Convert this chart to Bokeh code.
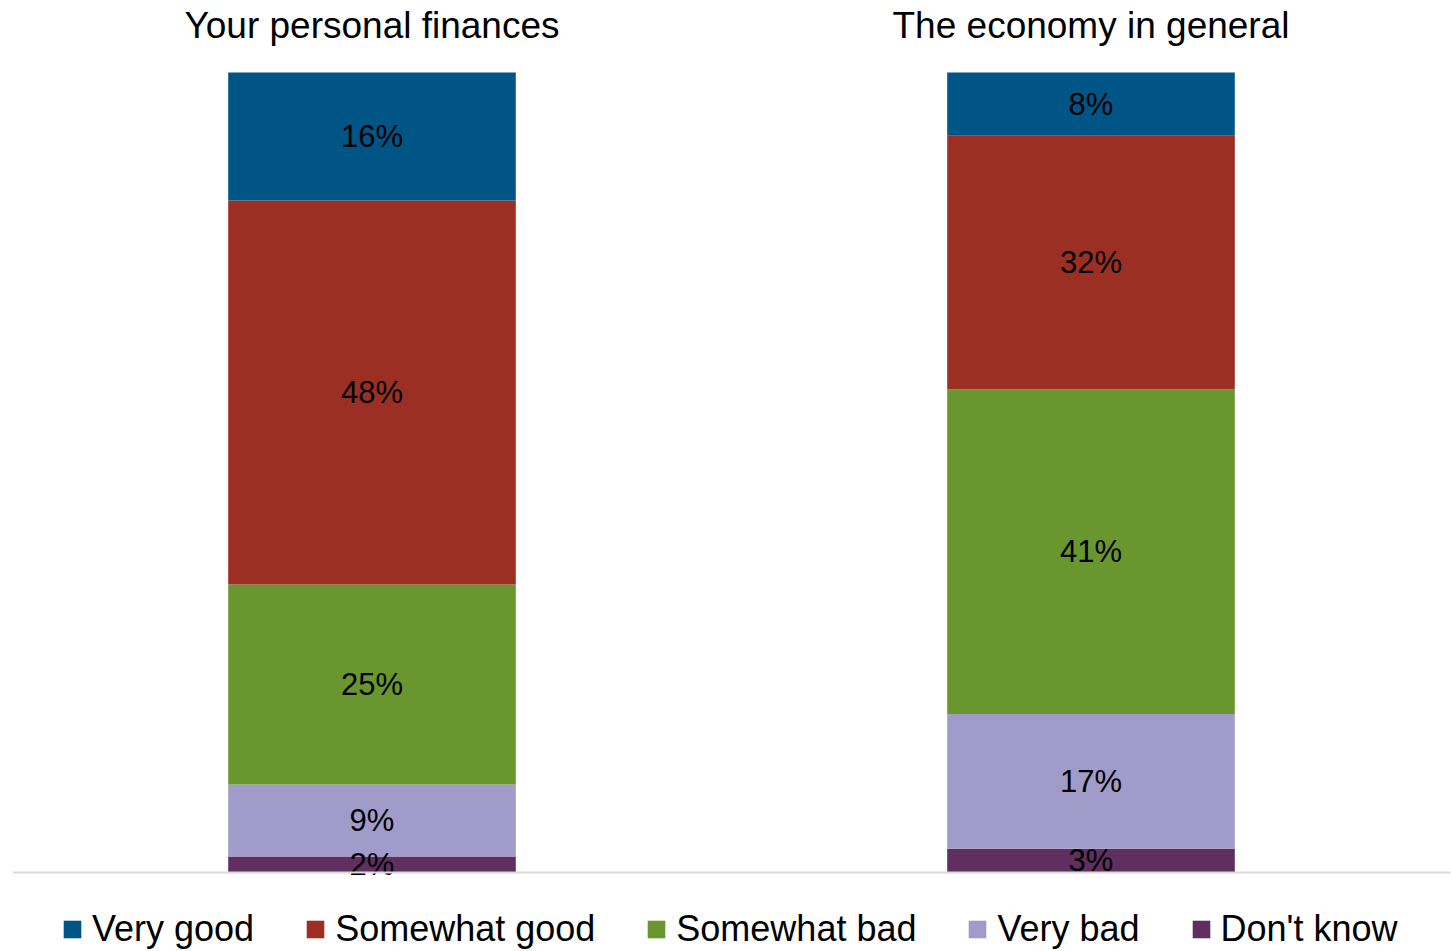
from bokeh.plotting import figure
from bokeh.models import ColumnDataSource, Legend, LegendItem, Span, Range1d, FactorRange
from bokeh.embed import file_html
from bokeh.resources import INLINE
from bokeh.core.properties import value

categories = ["Your personal finances", "The economy in general"]
series = ["Very good", "Somewhat good", "Somewhat bad", "Very bad", "Don't know"]
very_good = [16, 8]
somewhat_good = [48, 32]
somewhat_bad = [25, 41]
very_bad = [9, 17]
dont_know = [2, 3]
colors = ["#005587", "#9b2f24", "#69962e", "#a09bc9", "#5e2f5f"]

FONT = "Liberation Sans"

values = [very_good, somewhat_good, somewhat_bad, very_bad, dont_know]
totals = [sum(v[i] for v in values) for i in range(len(categories))]

# frame covers the full canvas height; 0..1 maps to pixel rows 872..72
p = figure(width=1451, height=951, output_backend="svg", toolbar_location=None,
           x_range=FactorRange(*categories, range_padding=0.0),
           y_range=Range1d(-79 / 800, 872 / 800), min_border_left=12, min_border_right=1,
           min_border_top=0, min_border_bottom=0)
p.outline_line_color = None
p.grid.visible = False
p.xaxis.visible = False
p.yaxis.visible = False

# stack from bottom: Don't know, Very bad, Somewhat bad, Somewhat good, Very good
order = list(range(len(series)))[::-1]
base = [0.0] * len(categories)
renderers = {}
lx, ly, lt = [], [], []
for k in order:
    bottoms = []
    tops = []
    for i in range(len(categories)):
        b = base[i]
        t = b + values[k][i] / totals[i]
        bottoms.append(b)
        tops.append(t)
        lx.append(categories[i])
        ly.append((b + t) / 2)
        lt.append(f"{values[k][i]}%")
        base[i] = t
    src = ColumnDataSource(dict(x=categories, bottom=bottoms, top=tops))
    renderers[k] = p.vbar(x="x", bottom="bottom", top="top", width=0.4, source=src,
                          fill_color=colors[k], line_color=None)

p.add_layout(Span(location=0, dimension="width", line_color="#d9d9d9", line_width=2))

lab = ColumnDataSource(dict(x=lx, y=ly, t=lt))
p.text(x="x", y="y", text="t", source=lab, text_align="center", text_baseline="middle",
       text_font=value(FONT), text_font_size="31px", text_color="black")

tsrc = ColumnDataSource(dict(x=categories, y=[(951 - 25 - 79) / 800] * 2, t=categories))
p.text(x="x", y="y", text="t", source=tsrc, text_align="center", text_baseline="middle",
       text_font=value(FONT), text_font_size="37px", text_color="black")

legend = Legend(items=[LegendItem(label=series[k], renderers=[renderers[k]]) for k in range(len(series))],
                orientation="horizontal", location=(49, 1), border_line_color=None,
                background_fill_alpha=0,
                label_text_font=FONT, label_text_font_size="36px", label_text_color="black",
                glyph_width=22, glyph_height=22,
                label_standoff=9, spacing=50, padding=0, margin=0)
p.add_layout(legend, "center")

open("out.html", "w").write(file_html(p, INLINE))
